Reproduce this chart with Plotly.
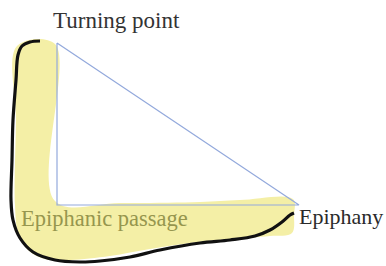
import plotly.graph_objects as go

# Diagram geometry (pixel-like canvas units, y downward)
triangle_x = [57, 57, 299, 57]
triangle_y = [43, 205, 205, 43]

highlight_x = [17, 55, 55, 120, 200, 240, 293, 294, 292, 270, 230, 190, 150, 110, 70, 45, 28, 18, 15, 16, 17]
highlight_y = [46, 44, 201, 203, 202, 200, 199, 215, 233, 236, 239, 243, 249, 256, 260, 259, 250, 232, 205, 120, 46]

outline_x = [40, 30, 22, 18, 16, 13, 12, 11, 13, 20, 33, 55, 80, 100, 130, 160, 200, 230, 255, 270, 282, 290, 294]
outline_y = [41, 42, 46, 55, 80, 120, 160, 200, 220, 238, 252, 260, 262, 261, 257, 250, 243, 240, 236, 230, 222, 215, 213]

label_text = ["Turning point", "Epiphanic passage", "Epiphany"]
label_x = [51, 19, 297]
label_y = [20, 218, 216]
label_size = [23, 22.5, 22]
label_color = ["#333333", "#96964e", "#2a2a2a"]

fig = go.Figure()
fig.add_trace(go.Scatter(x=highlight_x, y=highlight_y, mode="lines", fill="toself",
                         fillcolor="#f4efa6", line=dict(width=0, color="#f4efa6"),
                         line_shape="spline", hoverinfo="skip"))
fig.add_trace(go.Scatter(x=triangle_x, y=triangle_y, mode="lines",
                         line=dict(color="#93a9dc", width=1.2), hoverinfo="skip"))
fig.add_trace(go.Scatter(x=outline_x, y=outline_y, mode="lines", line_shape="spline",
                         line=dict(color="#111111", width=3.2), hoverinfo="skip"))

for t, x, y, s, c in zip(label_text, label_x, label_y, label_size, label_color):
    fig.add_annotation(x=x, y=y, text=t, showarrow=False, xanchor="left", yanchor="middle",
                       font=dict(family="Liberation Serif, Times New Roman, serif", size=s, color=c))

fig.update_layout(width=386, height=266, autosize=False, margin=dict(l=0, r=0, t=0, b=0),
                  paper_bgcolor="white", plot_bgcolor="white", showlegend=False,
                  xaxis=dict(range=[0, 386], visible=False, fixedrange=True),
                  yaxis=dict(range=[266, 0], visible=False, fixedrange=True))

fig.write_html("out.html", config={"displayModeBar": False},
               post_script="document.body.style.margin='0px';document.body.style.overflow='hidden';")
